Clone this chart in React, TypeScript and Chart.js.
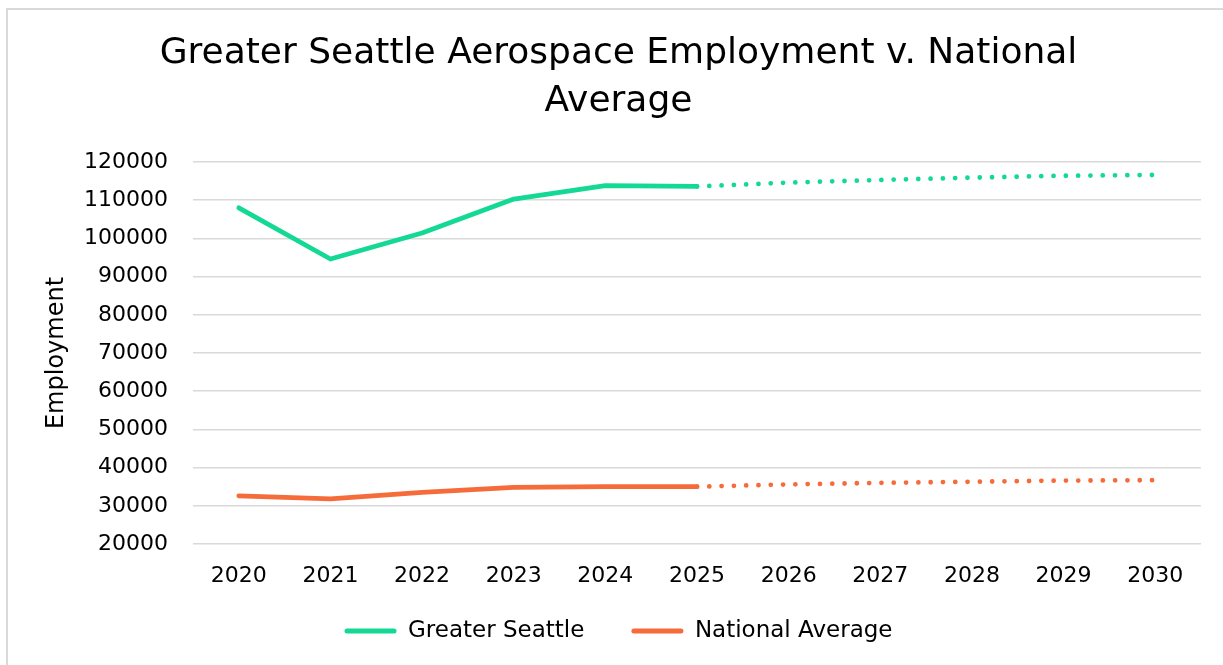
import React, { useEffect, useRef } from "react";
import { Chart, registerables } from "chart.js";

Chart.register(...registerables);

const years = ["2020", "2021", "2022", "2023", "2024", "2025", "2026", "2027", "2028", "2029", "2030"];
const seattle = [108000, 94600, 101400, 110300, 113800, 113600, 114600, 115300, 115900, 116400, 116600];
const national = [32600, 31800, 33500, 34800, 35000, 35000, 35600, 36000, 36300, 36600, 36700];
const forecastStart = 5; // index of 2025: dotted from here on
const yMin = 20000;
const yMax = 120000;
const yStep = 10000;
const titleLines = ["Greater Seattle Aerospace Employment v. National", "Average"];
const yTitle = "Employment";
const seriesNames = ["Greater Seattle", "National Average"];
const seriesColors = ["#13D994", "#F66B3A"];

const FONT = "'DejaVu Sans', sans-serif";
const LEGEND_PAD = 47;
const LEGEND_FONT = 23;
const LEGEND_CENTER_Y = 631;

// Moves the legend row so its items sit at the reference height.
const legendPlace = {
  id: "legendPlace",
  afterLayout(chart: any) {
    const lg = chart.legend;
    if (!lg) return;
    const h = lg.bottom - lg.top;
    lg.top = LEGEND_CENTER_Y - LEGEND_PAD - LEGEND_FONT / 2;
    lg.bottom = lg.top + h;
  },
};

export default function App() {
  const ref = useRef<HTMLCanvasElement | null>(null);

  useEffect(() => {
    if (!ref.current) return;
    const dotted = (ctx: any) => (ctx.p0DataIndex >= forecastStart ? [0, 12.3] : []);
    const chart = new Chart(ref.current, {
      type: "line",
      data: {
        labels: years,
        datasets: [seattle, national].map((d, i) => ({
          label: seriesNames[i],
          data: d,
          borderColor: seriesColors[i],
          backgroundColor: seriesColors[i],
          borderWidth: 4.8,
          borderCapStyle: "round",
          borderJoinStyle: "round",
          pointRadius: 0,
          pointHoverRadius: 0,
          tension: 0,
          fill: false,
          segment: { borderDash: dotted },
        })),
      },
      plugins: [legendPlace],
      options: {
        responsive: false,
        animation: false,
        layout: { padding: { left: 36, right: 22, top: 0, bottom: -7 } },
        plugins: {
          tooltip: { enabled: false },
          title: {
            display: true,
            text: titleLines,
            color: "#000",
            font: { family: FONT, size: 36, weight: "normal", lineHeight: 48 / 36 },
            padding: { top: 30, bottom: 36 },
          },
          legend: {
            position: "bottom",
            labels: {
              color: "#000",
              font: { family: FONT, size: LEGEND_FONT },
              boxWidth: 52,
              boxHeight: 5,
              padding: LEGEND_PAD,
              useBorderRadius: true,
              borderRadius: 2.5,
              generateLabels: (c: any) =>
                c.data.datasets.map((ds: any, i: number) => ({
                  text: ds.label,
                  fillStyle: seriesColors[i],
                  strokeStyle: seriesColors[i],
                  lineWidth: 0,
                  borderRadius: 2.5,
                  fontColor: "#000",
                  hidden: false,
                  datasetIndex: i,
                })),
            },
          },
        },
        scales: {
          x: {
            type: "category",
            offset: true,
            grid: { display: false, drawTicks: false },
            border: { display: false },
            ticks: {
              color: "#000",
              font: { family: FONT, size: 22 },
              padding: 19,
              maxRotation: 0,
              autoSkip: false,
            },
            afterFit: (s: any) => {
              s.height = 48;
            },
          },
          y: {
            min: yMin,
            max: yMax,
            grid: { color: "#D9D9D9", lineWidth: 1.5, drawTicks: false },
            border: { display: false },
            ticks: {
              stepSize: yStep,
              color: "#000",
              font: { family: FONT, size: 22 },
              padding: 25,
              callback: (v: any) => String(v),
            },
            title: {
              display: true,
              text: yTitle,
              color: "#000",
              font: { family: FONT, size: 24 },
              padding: { top: 6, bottom: 0 },
            },
            afterFit: (s: any) => {
              s.width = 157;
            },
          },
        },
      },
    } as any);
    return () => chart.destroy();
  }, []);

  return (
    <div
      style={{
        position: "fixed",
        left: 0,
        top: 0,
        width: 1223,
        height: 665,
        overflow: "hidden",
        background: "#fff",
      }}
    >
      <div
        style={{
          position: "absolute",
          left: 6,
          top: 8,
          width: 1300,
          height: 700,
          border: "2px solid #D9D9D9",
          boxSizing: "border-box",
        }}
      />
      <canvas
        ref={ref}
        width={1223}
        height={665}
        style={{ position: "absolute", left: 0, top: 0, display: "block" }}
      />
    </div>
  );
}
